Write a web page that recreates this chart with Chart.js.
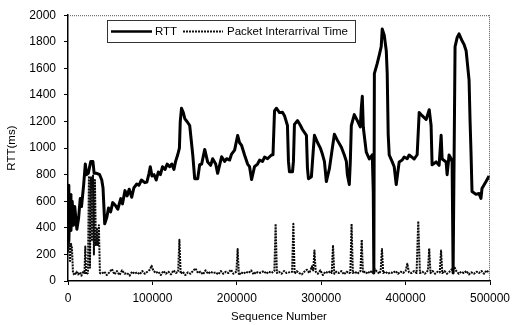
<!DOCTYPE html>
<html>
<head>
<meta charset="utf-8">
<script src="https://cdn.jsdelivr.net/npm/chart.js@4"></script>
<style>
  body { margin: 0; background: #fff; }
  canvas { display: block; }
</style>
</head>
<body>
<canvas id="chart" width="520" height="325"></canvas>
<script>
// RTT trace (sequence number, ms)
const rttSeq = [
  0, 1000, 2500, 3500, 5000, 6500, 8000, 10500, 12500, 14500,
  16000, 18500, 20500, 22000, 24000, 27000, 29500, 31000, 34000, 37500,
  40000, 41500, 43500, 46000, 48000, 50500, 53000, 56000, 59000, 62500,
  64500, 67500, 70000, 72500, 75500, 78000, 81500, 84000, 87000, 91000,
  93500, 96000, 97500, 99500, 102000, 104500, 107000, 109500, 112000, 115000,
  117500, 120500, 123000, 125500, 127500, 130000, 132000, 133000, 134500, 136500,
  138500, 141000, 144200, 147800, 150100, 153700, 156000, 158400, 162000, 165500,
  169000, 171400, 175000, 177300, 182000, 185600, 188000, 191500, 193800, 197400,
  201000, 203300, 205700, 209200, 212800, 215100, 217500, 221000, 224600, 227000,
  230500, 232900, 236400, 241100, 242900, 244700, 247000, 250600, 254100, 256500,
  260000, 261200, 262400, 266000, 267100, 268300, 271900, 275400, 277800, 282500,
  283700, 284900, 288400, 290800, 292000, 295500, 299000, 301400, 303800, 306100,
  309700, 313200, 315600, 319100, 323900, 327400, 329800, 331000, 333300, 334500,
  335700, 339200, 342800, 346300, 347500, 348700, 349900, 353400, 357000, 360500,
  361700, 362400, 363000, 366400, 368800, 371100, 372300, 374700, 377100, 378200,
  379400, 380600, 384200, 386500, 388900, 392400, 396000, 398300, 401900, 404200,
  407800, 410200, 413700, 416100, 419600, 424300, 428000, 430200, 431400, 436200,
  439700, 442100, 443300, 448000, 449200, 451500, 453900, 455100, 456300, 458600,
  461000, 463300, 466900, 469300, 471700, 475200, 476400, 477500, 478700, 483400,
  487000, 489300, 490500, 495300, 498900
];
const rttMs = [
  720, 300, 650, 380, 600, 420, 560, 390, 470, 620,
  560, 720, 880, 800, 810, 900, 900, 810, 810, 800,
  760, 700, 430, 480, 550, 520, 590, 570, 540, 620,
  580, 680, 640, 690, 630, 700, 730, 720, 760, 740,
  745, 810, 860, 790, 800, 760, 820, 800, 860, 840,
  880, 860, 880, 840, 900, 950, 1000, 1200, 1300, 1270,
  1220, 1200, 1170, 950, 770, 770, 875, 880, 990, 895,
  870, 920, 880, 810, 935, 900, 920, 910, 955, 985,
  1095, 1040, 1020, 948, 880, 860, 763, 860, 880, 910,
  900, 933, 920, 948, 950, 1280, 1300, 1267, 1270, 1244,
  1170, 900, 822, 822, 900, 1178, 1207, 1170, 1140, 1096,
  850, 770, 785, 1000, 1096, 1044, 1000, 955, 900, 748,
  845, 1000, 1104, 1060, 1007, 948, 900, 800, 726, 900,
  1170, 1252, 1207, 1160, 1300, 1390, 1155, 970, 918, 950,
  674, 60, 1560, 1637, 1700, 1763, 1896, 1850, 1733, 1563,
  1100, 948, 896, 860, 726, 896, 910, 933, 920, 948,
  930, 918, 950, 1267, 1244, 1215, 1289, 1170, 874, 896,
  870, 1096, 918, 896, 800, 948, 920, 896, 60, 1763,
  1830, 1859, 1807, 1780, 1733, 1511, 1200, 970, 674, 652,
  659, 622, 696, 748, 790
];

// Packet interarrival time (sequence number, ms)
const iatSeq = [
  0, 1200, 2400, 3500, 4700, 5900, 8000, 10000, 12000, 14000,
  16000, 18000, 19500, 20500, 21500, 23600, 24800, 26000, 27200, 28400,
  29600, 30700, 31900, 33100, 34300, 35500, 36600, 37800, 40000, 43000,
  46000, 49000, 52000, 55000, 58000, 61000, 64000, 67000, 70000, 73000,
  76000, 79000, 82000, 85000, 88000, 91000, 94000, 97000, 99000, 101000,
  104000, 107000, 110000, 113000, 116000, 119000, 122000, 125000, 128000, 130500,
  132000, 133500, 136000, 139000, 142000, 145000, 148000, 151000, 154000, 157000,
  160000, 163000, 166000, 169000, 172000, 175000, 178000, 181000, 184000, 187000,
  190000, 193000, 196000, 199500, 201000, 202500, 205000, 208000, 211000, 214000,
  217000, 220000, 223000, 226000, 229000, 232000, 235000, 238000, 241000, 244500,
  246000, 247500, 250000, 253000, 256000, 259000, 262000, 265500, 267000, 268500,
  271000, 274000, 277000, 280000, 283000, 286000, 289000, 290500, 292000, 293500,
  296000, 299000, 302000, 305000, 308000, 311000, 312500, 314000, 315500, 318000,
  321000, 324000, 327000, 330000, 333000, 334500, 336000, 337500, 340000, 343000,
  346500, 348000, 349500, 352000, 355000, 358000, 361000, 363500, 366000, 369000,
  370500, 372000, 373500, 376000, 379000, 382000, 385000, 388000, 391000, 394000,
  397000, 400000, 402000, 404000, 407000, 410000, 413000, 415000, 417000, 420000,
  423000, 426500, 428000, 429500, 432000, 435000, 438000, 440500, 442000, 443500,
  446000, 449000, 452000, 455000, 457500, 460000, 463000, 466000, 469000, 472000,
  475000, 478000, 481000, 484000, 487000, 490000, 493000, 496000, 499000
];
const iatMs = [
  220, 290, 150, 280, 250, 60, 45, 70, 50, 65,
  40, 75, 60, 260, 50, 60, 790, 100, 780, 300,
  800, 200, 760, 270, 400, 270, 420, 60, 55, 70,
  45, 65, 90, 50, 75, 45, 80, 55, 60, 40,
  70, 55, 65, 50, 75, 55, 70, 85, 115, 80,
  60, 70, 45, 75, 55, 70, 50, 80, 60, 70,
  310, 55, 70, 45, 65, 55, 75, 95, 60, 70,
  50, 80, 55, 70, 60, 65, 50, 75, 55, 70,
  60, 85, 55, 70, 240, 45, 65, 55, 70, 60,
  80, 50, 70, 60, 65, 75, 55, 70, 60, 75,
  430, 60, 70, 55, 75, 60, 65, 70, 430, 55,
  75, 60, 50, 70, 85, 60, 110, 80, 230, 70,
  55, 80, 45, 70, 60, 75, 60, 270, 55, 70,
  60, 75, 50, 70, 60, 65, 430, 60, 70, 55,
  75, 310, 60, 70, 55, 75, 60, 90, 70, 55,
  80, 240, 60, 70, 55, 65, 60, 75, 55, 70,
  60, 75, 130, 65, 60, 75, 60, 450, 60, 70,
  55, 80, 245, 60, 75, 55, 70, 65, 230, 60,
  75, 55, 70, 90, 110, 75, 55, 70, 60, 75,
  50, 65, 55, 70, 60, 75, 55, 80, 60
];

const xMax = 500000;
const xStep = 100000;
const yMax = 2000;
const yStep = 200;

const rttPoints = rttSeq.map((s, i) => ({ x: s, y: rttMs[i] }));
const iatPoints = iatSeq.map((s, i) => ({ x: s, y: iatMs[i] }));

const FONT = "'Liberation Sans', Arial, sans-serif";

// legend box drawn inside the plot, like the original
const insideLegend = {
  id: 'insideLegend',
  afterDraw(chart) {
    const ctx = chart.ctx;
    const a = chart.chartArea;
    ctx.save();
    // dotted top and right frame
    ctx.strokeStyle = '#555';
    ctx.lineWidth = 1;
    ctx.setLineDash([1, 1]);
    ctx.beginPath();
    ctx.moveTo(a.left, a.top + 0.5);
    ctx.lineTo(a.right, a.top + 0.5);
    ctx.moveTo(a.right - 0.5, a.top);
    ctx.lineTo(a.right - 0.5, a.bottom);
    ctx.stroke();

    const bx = 107, by = 20, bw = 248, bh = 22;
    ctx.setLineDash([]);
    ctx.fillStyle = '#fff';
    ctx.fillRect(bx, by, bw, bh);
    ctx.strokeStyle = '#333';
    ctx.lineWidth = 1;
    ctx.strokeRect(bx + 0.5, by + 0.5, bw, bh);

    const cy = by + bh / 2 + 0.5;
    ctx.strokeStyle = '#000';
    ctx.lineWidth = 2.5;
    ctx.beginPath();
    ctx.moveTo(111, cy);
    ctx.lineTo(152, cy);
    ctx.stroke();

    ctx.lineWidth = 2;
    ctx.setLineDash([2, 1]);
    ctx.strokeStyle = '#111';
    ctx.beginPath();
    ctx.moveTo(183, cy);
    ctx.lineTo(223, cy);
    ctx.stroke();
    ctx.setLineDash([]);

    ctx.fillStyle = '#000';
    ctx.font = '11.5px ' + FONT;
    ctx.textBaseline = 'middle';
    ctx.textAlign = 'left';
    ctx.fillText('RTT', 155, cy);
    ctx.fillText('Packet Interarrival Time', 227, cy);
    ctx.restore();
  }
};

new Chart(document.getElementById('chart'), {
  type: 'line',
  data: {
    datasets: [
      {
        label: 'Packet Interarrival Time',
        data: iatPoints,
        borderColor: '#0a0a0a',
        borderWidth: 2,
        borderDash: [2, 1],
        pointRadius: 0,
        fill: false
      },
      {
        label: 'RTT',
        data: rttPoints,
        borderColor: '#000',
        borderWidth: 3,
        pointRadius: 0,
        fill: false
      }
    ]
  },
  options: {
    responsive: false,
    animation: false,
    layout: { padding: { top: 11, right: 30, left: 0, bottom: 0 } },
    elements: { line: { tension: 0, borderJoinStyle: 'round' } },
    plugins: {
      legend: { display: false },
      tooltip: { enabled: false }
    },
    scales: {
      x: {
        type: 'linear',
        min: 0,
        max: xMax,
        afterFit(scale) { scale.height = 44; },
        ticks: {
          stepSize: xStep,
          maxRotation: 0,
          autoSkip: false,
          padding: 6,
          color: '#000',
          font: { family: FONT, size: 12 },
          callback: v => String(v)
        },
        grid: { drawOnChartArea: false, drawTicks: true, tickLength: 4, color: '#000' },
        border: { color: '#000', width: 1.5 },
        title: {
          display: true,
          text: 'Sequence Number',
          color: '#000',
          font: { family: FONT, size: 11.5 },
          padding: { top: 0, bottom: 1 }
        }
      },
      y: {
        min: 0,
        max: yMax,
        afterFit(scale) { scale.width = 68; },
        ticks: {
          stepSize: yStep,
          padding: 8,
          color: '#000',
          font: { family: FONT, size: 12 },
          callback: v => String(v)
        },
        grid: { drawOnChartArea: false, drawTicks: true, tickLength: 4, color: '#000' },
        border: { color: '#000', width: 1.5 },
        title: {
          display: true,
          text: 'RTT(ms)',
          color: '#000',
          font: { family: FONT, size: 11.5 },
          padding: { top: 5, bottom: 0 }
        }
      }
    }
  },
  plugins: [insideLegend]
});
</script>
</body>
</html>
